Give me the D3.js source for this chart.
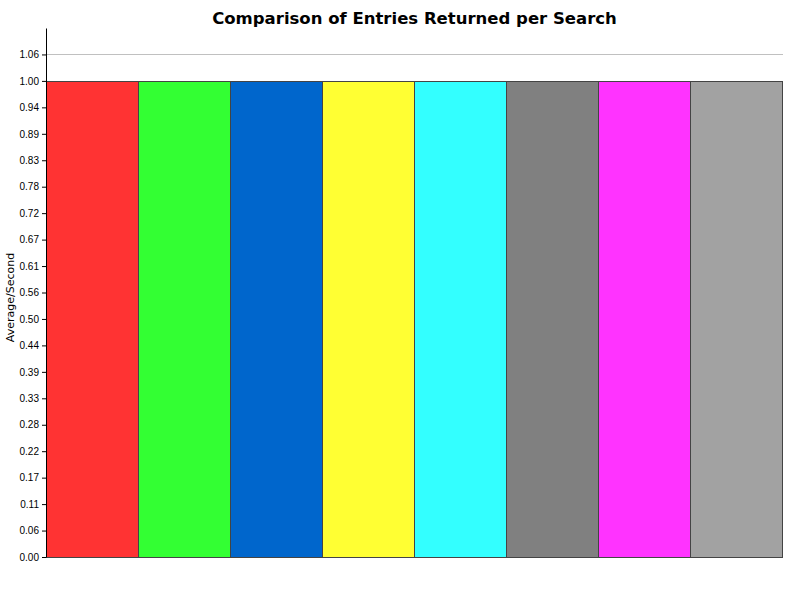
<!DOCTYPE html>
<html lang="en">
<head>
    <meta charset="UTF-8">
    <title>Comparison of Entries Returned per Search</title>
    <script src="https://cdn.jsdelivr.net/npm/d3@7"></script>
    <style>
        body { margin: 0; background: #fff; font-family: "DejaVu Sans", sans-serif; }
    </style>
</head>
<body>
    <div id="chart"></div>
    <script>
        // one bar per search variant, all came back at 1.0
        const categories = ["S1", "S2", "S3", "S4", "S5", "S6", "S7", "S8"];
        const values = [1.0, 1.0, 1.0, 1.0, 1.0, 1.0, 1.0, 1.0];
        const colors = ["#ff3333", "#33ff33", "#0066cc", "#ffff33", "#33ffff", "#808080", "#ff33ff", "#a2a2a2"];
        const tickValues = d3.range(0, 20).map(i => i / 18);

        const width = 800, height = 600;
        const margin = { top: 28, right: 17, bottom: 43, left: 46 };
        const w = width - margin.left - margin.right;
        const h = height - margin.top - margin.bottom;

        const svg = d3.select("#chart").append("svg")
            .attr("width", width)
            .attr("height", height);

        svg.append("text")
            .attr("x", margin.left + w / 2)
            .attr("y", 24)
            .attr("text-anchor", "middle")
            .style("font-size", "16.5px")
            .style("font-weight", "bold")
            .text("Comparison of Entries Returned per Search");

        const g = svg.append("g")
            .attr("transform", `translate(${margin.left}, ${margin.top})`);

        const x = d3.scaleBand().domain(categories).range([0, w - 1]).padding(0);
        const y = d3.scaleLinear().domain([0, 20 / 18]).range([h, 0]);

        // grid lines
        g.append("g")
            .selectAll("line")
            .data(tickValues)
            .join("line")
            .attr("x1", 0)
            .attr("x2", w)
            .attr("y1", d => Math.round(y(d)) + 0.5)
            .attr("y2", d => Math.round(y(d)) + 0.5)
            .attr("stroke", "#c0c0c0")
            .attr("stroke-width", 1);

        g.append("g")
            .selectAll("rect")
            .data(values)
            .join("rect")
            .attr("x", (d, i) => x(categories[i]) + 0.5)
            .attr("y", d => Math.round(y(d)) + 0.5)
            .attr("width", x.bandwidth())
            .attr("height", d => h - Math.round(y(d)))
            .attr("fill", (d, i) => colors[i])
            .attr("stroke", "#444")
            .attr("stroke-width", 1);

        // x axis line, no labels
        g.append("line")
            .attr("x1", 0)
            .attr("x2", w)
            .attr("y1", h + 0.5)
            .attr("y2", h + 0.5)
            .attr("stroke", "#444");

        const yAxis = g.append("g")
            .call(d3.axisLeft(y).tickValues(tickValues).tickFormat(d3.format(".2f")).tickSize(4).tickSizeOuter(0));
        yAxis.select(".domain").attr("stroke", "#000");
        yAxis.selectAll("text").style("font-size", "10px").attr("fill", "#000");

        svg.append("text")
            .attr("transform", `translate(14, ${margin.top + h / 2 + 5}) rotate(-90)`)
            .attr("text-anchor", "middle")
            .style("font-size", "11px")
            .text("Average/Second");
    </script>
</body>
</html>
